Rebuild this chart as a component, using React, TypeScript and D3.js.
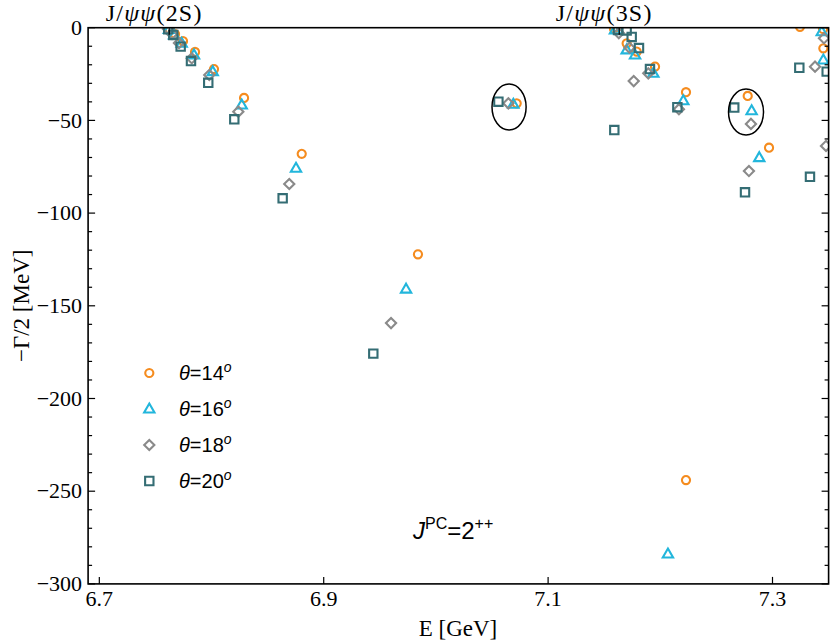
import React from 'react'
import * as d3 from 'd3'

// [E in GeV, -Gamma/2 in MeV]
const theta14: [number, number][] = [
  [6.763, -1.2], [6.7675, -3.4], [6.7746, -7.2], [6.7853, -13.1], [6.8022, -22.3],
  [6.829, -37.9], [6.8804, -68.0], [6.984, -122.2], [7.072, -40.8], [7.1587, -0.5],
  [7.17, -8.4], [7.179, -12.9], [7.1953, -21.0], [7.2229, -34.8], [7.2229, -244.0],
  [7.2779, -36.8], [7.2969, -64.7], [7.3245, 0.5], [7.345, -0.7], [7.3453, -11.1],
]
const theta16: [number, number][] = [
  [6.762, -1.0], [6.7666, -3.9], [6.7734, -8.4], [6.7844, -14.7], [6.8011, -23.7],
  [6.8269, -41.7], [6.8753, -75.8], [6.9734, -141.0], [7.069, -41.3], [7.1596, -1.2],
  [7.17, -12.0], [7.1775, -14.7], [7.1938, -24.6], [7.2068, -283.9], [7.2205, -39.4],
  [7.2814, -44.8], [7.2882, -70.1], [7.3439, -2.2], [7.3453, -17.4],
]
const theta18: [number, number][] = [
  [6.7612, -0.7], [6.7648, -3.4], [6.771, -8.3], [6.7824, -16.5], [6.798, -25.5],
  [6.8239, -45.3], [6.8693, -84.3], [6.96, -159.3], [7.0646, -40.8], [7.163, -2.9],
  [7.1725, -10.8], [7.1763, -28.8], [7.1893, -24.6], [7.2166, -44.0], [7.2808, -51.9],
  [7.279, -77.3], [7.3379, -21.0], [7.3459, -5.7], [7.3477, -63.8],
]
const theta20: [number, number][] = [
  [6.7614, -0.9], [6.7659, -3.9], [6.7725, -10.2], [6.7817, -18.0], [6.7971, -29.7],
  [6.8203, -49.4], [6.8634, -92.0], [6.9442, -175.8], [7.0557, -39.9], [7.159, -55.2],
  [7.1623, -1.2], [7.17, -1.5], [7.1745, -5.0], [7.181, -11.0], [7.1908, -22.3],
  [7.2152, -42.9], [7.2659, -43.1], [7.2755, -88.8], [7.3239, -21.6], [7.3334, -80.4],
  [7.3483, -23.7],
]

const xTicks = [6.7, 6.9, 7.1, 7.3]
const yTicks = [0, -50, -100, -150, -200, -250, -300]
const yMinor = d3.range(0, -301, -10)
const thresholds = [
  { e: 6.7623, label: '2S' },
  { e: 7.1634, label: '3S' },
]
// circled groups: center E, center width, half-axes
const ellipses = [
  { e: 7.0652, g: -42.8, re: 0.0152, rg: 12.4 },
  { e: 7.2764, g: -45.5, re: 0.0156, rg: 12.4 },
]
const legendLabels = ['14', '16', '18', '20']

const colors = ['#f58c1f', '#22b6dc', '#8a8a8a', '#346d74']

const width = 830
const height = 644
const left = 88.1
const right = 828.6
const top = 27.7
const bottom = 583.9

const x = d3.scaleLinear().domain([6.69, 7.35]).range([left, right])
const y = d3.scaleLinear().domain([0, -300]).range([top, bottom])

const circlePath = d3.symbol(d3.symbolCircle, 52)()
const trianglePath = d3.symbol(d3.symbolTriangle, 46)()
const squarePath = d3.symbol(d3.symbolSquare, 70)()
const diamondPath = d3.symbol(d3.symbolSquare, 52)()

const Marker = ({ kind, cx, cy }: { kind: number; cx: number; cy: number }) => {
  const common = { fill: 'none', stroke: colors[kind], strokeWidth: 2.1 }
  if (kind === 0) return <path d={circlePath || ''} transform={`translate(${cx},${cy})`} {...common} />
  if (kind === 1) return <path d={trianglePath || ''} transform={`translate(${cx},${cy + 0.5})`} {...common} />
  if (kind === 2) return <path d={diamondPath || ''} transform={`translate(${cx},${cy}) rotate(45)`} {...common} />
  return <path d={squarePath || ''} transform={`translate(${cx},${cy})`} {...common} />
}

const serif = '"Liberation Serif", "Times New Roman", serif'
const sans = '"Liberation Sans", Arial, sans-serif'

export default function App() {
  const series = [theta14, theta16, theta18, theta20]
  return (
    <svg width={width} height={height} style={{ position: 'absolute', left: 0, top: 0, background: '#fff' }}>
      <defs>
        <clipPath id="plot">
          <rect x={left} y={top} width={right - left} height={bottom - top} />
        </clipPath>
      </defs>

      {/* markers */}
      <g clipPath="url(#plot)">
        {series.map((s, k) => (
          <g key={k}>
            {s.map(([e, g], i) => (
              <Marker key={i} kind={k} cx={x(e)} cy={y(g)} />
            ))}
          </g>
        ))}
        {ellipses.map((el, i) => (
          <ellipse key={i} cx={x(el.e)} cy={y(el.g)} rx={x(el.e + el.re) - x(el.e)} ry={y(el.g - el.rg) - y(el.g)}
            fill="none" stroke="#000" strokeWidth={1.5} />
        ))}
      </g>

      {/* frame */}
      <rect x={left} y={top} width={right - left} height={bottom - top} fill="none" stroke="#000" strokeWidth={1.6} />

      {/* y ticks */}
      {yMinor.map(v => {
        const major = v % 50 === 0
        const len = major ? 7 : 4
        return (
          <g key={v}>
            <line x1={left} x2={left + len} y1={y(v)} y2={y(v)} stroke="#000" strokeWidth={1.2} />
            <line x1={right} x2={right - len} y1={y(v)} y2={y(v)} stroke="#000" strokeWidth={1.2} />
          </g>
        )
      })}
      {yTicks.map(v => (
        <text key={v} x={left - 6} y={y(v)} dy="0.33em" textAnchor="end" fontFamily={serif} fontSize={22}>
          {v === 0 ? '0' : `\u2212${Math.abs(v)}`}
        </text>
      ))}

      {/* x ticks */}
      {xTicks.map(v => (
        <g key={v}>
          <line x1={x(v)} x2={x(v)} y1={bottom} y2={bottom - 7} stroke="#000" strokeWidth={1.2} />
          <text x={x(v)} y={bottom + 22} textAnchor="middle" fontFamily={serif} fontSize={22}>
            {v.toFixed(1)}
          </text>
        </g>
      ))}

      {/* thresholds on top */}
      {thresholds.map(t => (
        <g key={t.label}>
          <line x1={x(t.e)} x2={x(t.e)} y1={top} y2={top + 7} stroke="#000" strokeWidth={1.2} />
          <text x={x(t.e) - 15} y={top - 7} textAnchor="middle" fontFamily={serif} fontSize={24} letterSpacing={1.2}>
            J/<tspan fontStyle="italic">ψψ</tspan>({t.label})
          </text>
        </g>
      ))}

      {/* axis labels */}
      <text x={458} y={636} textAnchor="middle" fontFamily={serif} fontSize={23}>E [GeV]</text>
      <text transform={`translate(29,${(top + bottom) / 2}) rotate(-90)`} textAnchor="middle" fontFamily={serif} fontSize={23}>
        {'\u2212\u0393/2 [MeV]'}
      </text>

      {/* legend */}
      {legendLabels.map((lab, k) => {
        const ly = 373 + k * 36
        return (
          <g key={lab}>
            <Marker kind={k} cx={149.3} cy={ly} />
            <text x={179} y={ly + 7} fontFamily={sans} fontSize={20}>
              <tspan fontStyle="italic">θ</tspan>={lab}
              <tspan fontStyle="italic" fontSize={14} dy={-8}>o</tspan>
            </text>
          </g>
        )
      })}

      {/* quantum numbers */}
      <text x={413} y={539} fontFamily={sans} fontSize={24}>
        <tspan fontStyle="italic">J</tspan>
        <tspan fontSize={16} dy={-10}>PC</tspan>
        <tspan dy={10}>=2</tspan>
        <tspan fontSize={16} dy={-10}>++</tspan>
      </text>
    </svg>
  )
}
